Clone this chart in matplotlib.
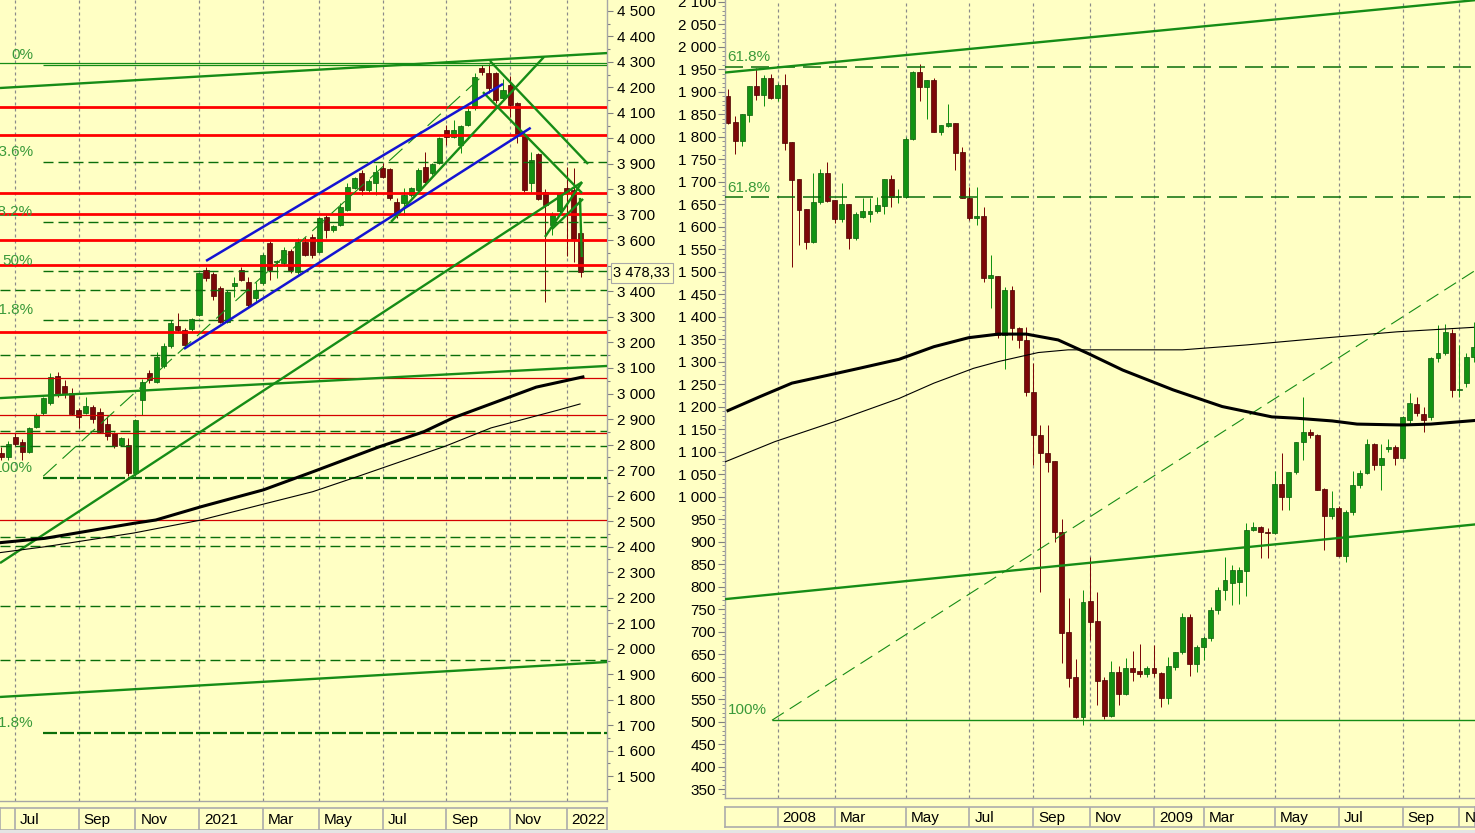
import numpy as np
import matplotlib
matplotlib.use('Agg')
import matplotlib.pyplot as plt
import matplotlib.transforms as mtransforms
from matplotlib.ticker import MultipleLocator, FuncFormatter
from matplotlib.patches import Rectangle

plt.rcParams['font.family'] = ['Liberation Sans', 'DejaVu Sans']

# ======================= DATA =======================
# ---- Left panel: weekly candles, late Jun 2020 .. Jan 2022 ----
left_open = [2765, 2750, 2831, 2811, 2772, 2870, 2922, 2962, 3069, 3030,
             3001, 2935, 2925, 2946, 2929, 2881, 2844, 2798, 2798, 2687,
             2975, 3079, 3047, 3106, 3186, 3265, 3249, 3252, 3308, 3484,
             3469, 3413, 3282, 3420, 3484, 3439, 3373, 3432, 3589, 3515,
             3511, 3560, 3478, 3596, 3615, 3556, 3694, 3641, 3661, 3720,
             3805, 3864, 3798, 3824, 3883, 3879, 3752, 3746, 3778, 3798,
             3890, 3863, 3903, 4033, 4007, 3975, 4053, 4118, 4278, 4256,
             4256, 4160, 4210, 4138, 4014, 3824, 3938, 3791, 3661, 3714,
             3805, 3798, 3628]
left_high = [2790, 2812, 2844, 2820, 2870, 2922, 2988, 3082, 3086, 3053,
             3020, 2942, 2988, 2955, 2942, 2910, 2850, 2830, 2824, 2899,
             3056, 3092, 3164, 3197, 3288, 3314, 3255, 3295, 3474, 3498,
             3475, 3420, 3406, 3458, 3498, 3456, 3439, 3550, 3599, 3525,
             3576, 3565, 3610, 3615, 3625, 3694, 3700, 3660, 3746, 3824,
             3850, 3877, 3841, 3896, 3903, 3885, 3765, 3805, 3810, 3883,
             3946, 3905, 4007, 4053, 4073, 4053, 4118, 4256, 4288, 4292,
             4262, 4232, 4245, 4145, 4020, 3948, 3942, 3800, 3710, 3790,
             3890, 3883, 3650]
left_low = [2740, 2740, 2795, 2739, 2765, 2865, 2915, 2955, 2988, 2981,
            2916, 2863, 2920, 2883, 2844, 2818, 2788, 2795, 2677, 2677,
            2916, 3040, 3040, 3100, 3180, 3242, 3177, 3245, 3304, 3440,
            3367, 3275, 3275, 3380, 3440, 3340, 3360, 3425, 3445, 3452,
            3500, 3472, 3470, 3540, 3530, 3550, 3608, 3635, 3655, 3715,
            3800, 3778, 3790, 3778, 3845, 3759, 3687, 3700, 3770, 3790,
            3825, 3855, 3900, 3975, 4000, 3942, 4048, 4110, 4250, 4180,
            4140, 4150, 4086, 3981, 3791, 3790, 3758, 3359, 3622, 3700,
            3540, 3517, 3458]
left_close = [2752, 2802, 2802, 2772, 2864, 2916, 2981, 3064, 2998, 2998,
              2920, 2909, 2951, 2899, 2850, 2835, 2794, 2824, 2687, 2896,
              3046, 3053, 3145, 3186, 3278, 3249, 3190, 3291, 3471, 3452,
              3382, 3282, 3399, 3432, 3445, 3347, 3406, 3543, 3484, 3521,
              3563, 3484, 3596, 3543, 3543, 3687, 3641, 3658, 3733, 3811,
              3844, 3798, 3833, 3870, 3850, 3765, 3700, 3778, 3805, 3876,
              3831, 3899, 4001, 4007, 4033, 4050, 4108, 4243, 4262, 4197,
              4151, 4190, 4131, 4014, 3798, 3916, 3763, 3739, 3700, 3785,
              3785, 3602, 3478.33]
left_month_ticks = [2, 11, 19, 28, 37, 45, 54, 63, 72, 80]
left_month_labels = ['Jul', 'Sep', 'Nov', '2021', 'Mar', 'May', 'Jul', 'Sep', 'Nov', '2022']

# moving averages (bar index, value)
left_ma_long_x = [-0.14, 6.2, 18.8, 21.9, 28.3, 37.1, 44.1, 53.5, 59.8, 63.9, 71.9, 75.7, 82.3]
left_ma_long_y = [2415, 2432, 2491, 2504, 2556, 2622, 2693, 2791, 2850, 2904, 2986, 3025, 3065]
left_ma_short_x = [-0.14, 6.2, 18.8, 28.3, 37.8, 44.1, 50.4, 62.9, 69.3, 78.8, 81.9]
left_ma_short_y = [2376, 2399, 2453, 2504, 2571, 2615, 2674, 2794, 2865, 2935, 2959]

# horizontal levels
left_red_thick = [4125, 4015, 3786, 3704, 3602, 3504, 3240]
left_red_thin = [3061, 2916, 2846, 2504]
left_fib_start = 5.94
left_fib_label_x = 4.53
left_fib_levels = [4290, 3909, 3672, 3481, 3290, 2670, 1668]
left_fib_labels = ['0%', '23.6%', '38.2%', '50%', '61.8%', '100%', '161.8%']
left_green_solid_full = [4297]
left_green_dashed_full = [3406, 3151, 2853, 2794, 2437, 2402, 2167, 1955]

# trend lines ((x0, y0), (x1, y1)) in (bar index, price)
left_green_trends = [((-0.14, 4198), (85.71, 4335)),
                     ((-0.14, 2982), (85.71, 3108)),
                     ((-0.14, 1810), (85.71, 1947)),
                     ((-0.14, 2335), (82.18, 3829)),
                     ((55.16, 3673), (76.80, 4320)),
                     ((69.16, 4304), (83.03, 3900)),
                     ((68.17, 4182), (82.18, 3786)),
                     ((76.94, 3614), (82.18, 3829)),
                     ((77.93, 3645), (82.32, 3763)),
                     ((81.89, 3767), (82.14, 3535))]
left_blue_trends = [((29.0, 3520), (71.0, 4214)),
                    ((25.88, 3175), (74.92, 4042))]
left_thin_diag = ((5.98, 2676), (67.75, 4237))

# ---- Right panel: weekly candles, Nov 2007 .. Nov 2009 ----
right_open = [1890, 1833, 1792, 1849, 1913, 1893, 1931, 1886, 1915, 1789,
              1706, 1639, 1567, 1655, 1721, 1660, 1618, 1651, 1576, 1623,
              1628, 1635, 1647, 1707, 1667, 1667, 1795, 1945, 1910, 1927,
              1812, 1825, 1830, 1767, 1665, 1621, 1624, 1487, 1492, 1361,
              1460, 1375, 1349, 1234, 1138, 1098, 1080, 922, 700, 600,
              511, 769, 724, 593, 513, 611, 562, 620, 613, 607,
              620, 609, 553, 622, 656, 733, 629, 667, 687, 749,
              793, 809, 811, 836, 927, 933, 922, 920, 1029, 1000,
              1056, 1122, 1144, 1138, 1018, 958, 976, 869, 967, 1027,
              1053, 1118, 1071, 1107, 1111, 1087, 1171, 1207, 1185, 1178,
              1309, 1320, 1364, 1238, 1253, 1311]
right_high = [1906, 1847, 1852, 1913, 1953, 1938, 1941, 1919, 1940, 1789,
              1706, 1639, 1719, 1728, 1744, 1660, 1697, 1651, 1634, 1665,
              1665, 1667, 1707, 1716, 1684, 1801, 1947, 1962, 1927, 1930,
              1827, 1873, 1830, 1778, 1688, 1688, 1645, 1538, 1492, 1467,
              1469, 1378, 1378, 1298, 1160, 1160, 1080, 950, 776, 640,
              793, 867, 789, 600, 636, 624, 642, 658, 673, 625,
              671, 611, 644, 656, 742, 740, 672, 690, 756, 800,
              867, 849, 845, 942, 944, 936, 930, 1058, 1098, 1056,
              1122, 1222, 1150, 1140, 1020, 1013, 980, 970, 1058, 1060,
              1129, 1120, 1118, 1129, 1115, 1180, 1231, 1222, 1200, 1312,
              1382, 1384, 1374, 1338, 1320, 1389]
right_low = [1829, 1762, 1781, 1833, 1882, 1869, 1884, 1880, 1771, 1512,
             1560, 1550, 1564, 1650, 1655, 1608, 1612, 1552, 1571, 1620,
             1610, 1630, 1628, 1645, 1653, 1665, 1793, 1879, 1841, 1812,
             1804, 1822, 1727, 1665, 1615, 1604, 1478, 1420, 1354, 1284,
             1349, 1330, 1225, 1071, 789, 1056, 900, 631, 578, 509,
             493, 682, 538, 507, 510, 538, 560, 591, 600, 600,
             600, 533, 540, 615, 650, 602, 611, 638, 680, 740,
             770, 760, 762, 779, 925, 864, 864, 918, 970, 970,
             1050, 1082, 1130, 1016, 882, 951, 869, 856, 960, 1020,
             1050, 1060, 1016, 1100, 1071, 1085, 1165, 1180, 1144, 1170,
             1300, 1315, 1222, 1222, 1245, 1300]
right_close = [1832, 1792, 1850, 1913, 1893, 1931, 1886, 1915, 1787, 1704,
               1638, 1567, 1655, 1721, 1658, 1618, 1651, 1576, 1628, 1636,
               1635, 1649, 1707, 1667, 1669, 1795, 1945, 1910, 1927, 1812,
               1827, 1830, 1765, 1665, 1621, 1624, 1487, 1493, 1361, 1461,
               1375, 1349, 1234, 1138, 1098, 1078, 922, 698, 598, 511,
               767, 722, 591, 513, 611, 562, 620, 611, 607, 620,
               609, 553, 624, 656, 733, 629, 667, 687, 749, 793,
               816, 838, 838, 927, 933, 922, 920, 1029, 1000, 1056,
               1122, 1144, 1138, 1016, 958, 976, 869, 967, 1027, 1053,
               1118, 1071, 1087, 1111, 1087, 1178, 1209, 1186, 1171, 1309,
               1320, 1367, 1238, 1241, 1311, 1333]
right_month_ticks = [7, 15, 25, 34, 43, 51, 60, 67, 77, 86, 95, 103]
right_month_labels = ['2008', 'Mar', 'May', 'Jul', 'Sep', 'Nov', '2009', 'Mar', 'May', 'Jul', 'Sep', 'Nov']

right_ma_long_x = [0, 4.5, 9.0, 14.2, 18.5, 24.1, 29.0, 33.9, 38.1, 42.0, 46.5, 50.7,
                   55.6, 62.7, 69.6, 76.6, 80.1, 85.1, 88.6, 94.9, 99.0, 105.2]
right_ma_long_y = [1192, 1223, 1253, 1271, 1286, 1306, 1334, 1354, 1362, 1362, 1349, 1319,
                   1282, 1238, 1201, 1178, 1175, 1169, 1162, 1160, 1162, 1170]
right_ma_short_x = [-0.42, 6.6, 14.9, 19.5, 24.1, 29.0, 34.6, 38.1, 43.7, 47.9, 55.6,
                    64.0, 73.1, 83.7, 94.2, 105.0]
right_ma_short_y = [1078, 1123, 1167, 1193, 1219, 1253, 1286, 1301, 1321, 1327, 1327,
                    1327, 1338, 1353, 1367, 1377]

right_fib_levels = [1955, 1666]
right_fib_labels = ['61.8%', '61.8%']
right_fib_label_x = -0.14
right_low_level = 504
right_low_label = '100%'
right_low_start = 6.2
right_low_label_x = 0.0
right_green_trends = [((-0.56, 1943), (105.2, 2104)),
                      ((-0.42, 773), (105.2, 939))]
right_thin_diag = ((6.2, 504), (105.2, 1503))

# ======================= STYLE / LAYOUT =======================
W, H = 1475, 833
BG = '#FFFFC4'
UP_FC, UP_EC = '#129212', '#0b5c0b'
DN_FC, DN_EC = '#7c0808', '#4a0000'
GREEN = '#168c16'
GREEN_D = '#0a6e0a'
FIBTXT = '#3a9a3a'
GRID = '#8a8a8a'
SPINE = '#a6a6a6'
PX = 0.72  # points per pixel


def dash(on_px, off_px, lw):
    return (0, (on_px * PX / lw, off_px * PX / lw))


fig = plt.figure(figsize=(W / 100, H / 100), dpi=100, facecolor=BG)


def fa(x0, y0, x1, y1):
    return [x0 / W, 1 - y1 / H, (x1 - x0) / W, (y1 - y0) / H]


def candles(ax, o, h, l, c, width):
    o, h, l, c = map(np.asarray, (o, h, l, c))
    x = np.arange(len(o))
    up = c >= o
    bot = np.minimum(o, c)
    ht = np.maximum(np.abs(c - o), 1e-9)
    for m, fc, ec in ((up, UP_FC, UP_EC), (~up, DN_FC, DN_EC)):
        ax.vlines(x[m], l[m], h[m], color=fc, lw=1.0 * PX, zorder=2)
        ax.bar(x[m], ht[m], width, bottom=bot[m], color=fc, edgecolor=ec,
               linewidth=0.7 * PX, zorder=2.2)


def fib_text(ax, x, y, s, ha):
    tr = ax.transData + mtransforms.ScaledTranslation(0, 2 / 72, fig.dpi_scale_trans)
    ax.text(x, y, s, transform=tr, ha=ha, va='bottom', color=FIBTXT, fontsize=11,
            clip_on=True, zorder=6)


last = left_close[-1]


def fmt_left(v, p):
    # the tick label hidden behind the last-price box is not drawn
    if abs(v - last) < 40:
        return ''
    return f'{int(round(v)):,}'.replace(',', ' ')


def fmt_thousands(v, p):
    return f'{int(round(v)):,}'.replace(',', ' ')


# ----------------------- LEFT PANEL -----------------------
ax1 = fig.add_axes(fa(0, 0, 607, 801))
ax1.set_facecolor(BG)
ax1.set_xlim(-0.141, 85.71)
ax1.set_ylim(1402, 4543.1)

for t in left_month_ticks:
    ax1.axvline(t, color=GRID, lw=0.86, ls=dash(3, 3, 0.86), zorder=0.5)

candles(ax1, left_open, left_high, left_low, left_close, 0.72)

for y in left_red_thick:
    ax1.axhline(y, color='#ff0000', lw=2.0, zorder=3)
for y in left_red_thin:
    ax1.axhline(y, color='#d40000', lw=0.9, zorder=3)
for y in left_green_solid_full:
    ax1.axhline(y, color=GREEN, lw=0.9, zorder=3)
for y in left_green_dashed_full:
    ax1.axhline(y, color=GREEN_D, lw=1.0, ls=dash(10, 5, 1.0), zorder=3)

x_end = ax1.get_xlim()[1]
for lev, lab in zip(left_fib_levels, left_fib_labels):
    if lab == '0%':
        ax1.hlines(lev, left_fib_start, x_end, color=GREEN, lw=0.9, zorder=3)
    elif lab in ('100%', '161.8%'):
        ax1.hlines(lev, left_fib_start, x_end, color=GREEN_D, lw=1.6, ls=dash(14, 3, 1.6), zorder=3)
    else:
        ax1.hlines(lev, left_fib_start, x_end, color=GREEN_D, lw=1.0, ls=dash(10, 5, 1.0), zorder=3)
    fib_text(ax1, left_fib_label_x, lev, lab, 'right')

(dx0, dy0), (dx1, dy1) = left_thin_diag
ax1.plot([dx0, dx1], [dy0, dy1], color=GREEN, lw=0.8, ls=dash(18, 8, 0.8), zorder=3)

for (x0, y0), (x1, y1) in left_green_trends:
    ax1.plot([x0, x1], [y0, y1], color=GREEN, lw=1.7, zorder=4, solid_capstyle='butt')
for (x0, y0), (x1, y1) in left_blue_trends:
    ax1.plot([x0, x1], [y0, y1], color='#1414d2', lw=1.8, zorder=4, solid_capstyle='butt')

ax1.plot(left_ma_long_x, left_ma_long_y, color='black', lw=2.2, zorder=4,
         solid_joinstyle='round')
ax1.plot(left_ma_short_x, left_ma_short_y, color='black', lw=0.8, zorder=4)

ax1.yaxis.tick_right()
ax1.set_yticks(np.arange(1500, 4501, 100))
ax1.yaxis.set_minor_locator(MultipleLocator(50))
ax1.yaxis.set_major_formatter(FuncFormatter(fmt_left))
ax1.tick_params(axis='y', which='major', length=4.5, width=0.8, color='#808080',
                pad=2.5, labelsize=11, direction='out')
ax1.tick_params(axis='y', which='minor', length=2.3, width=0.8, color='#808080', direction='out')
ax1.set_xticks([])
for s in ('top', 'left'):
    ax1.spines[s].set_visible(False)
for s in ('right', 'bottom'):
    ax1.spines[s].set_color(SPINE)
    ax1.spines[s].set_linewidth(1.0)

last_txt = f'{last:,.2f}'.replace(',', ' ').replace('.', ',')
ax1.text(1.0105, last, last_txt,
         transform=mtransforms.blended_transform_factory(ax1.transAxes, ax1.transData),
         ha='left', va='center_baseline', fontsize=10.5, color='black', clip_on=False, zorder=10,
         bbox=dict(boxstyle='square,pad=0.18', fc=BG, ec='#a8a8a8', lw=0.8))

# ----------------------- RIGHT PANEL -----------------------
ax2 = fig.add_axes(fa(725, 0, 1475, 798))
ax2.set_facecolor(BG)
ax2.set_xlim(-0.423, 105.21)
ax2.set_ylim(331.1, 2104.4)

for t in right_month_ticks:
    ax2.axvline(t, color=GRID, lw=0.86, ls=dash(3, 3, 0.86), zorder=0.5)

candles(ax2, right_open, right_high, right_low, right_close, 0.70)

for lev, lab in zip(right_fib_levels, right_fib_labels):
    ax2.axhline(lev, color=GREEN_D, lw=1.1, ls=dash(18, 8, 1.1), zorder=3)
    fib_text(ax2, right_fib_label_x, lev, lab, 'left')
ax2.hlines(right_low_level, right_low_start, ax2.get_xlim()[1], color=GREEN, lw=1.0, zorder=3)
fib_text(ax2, right_low_label_x, right_low_level, right_low_label, 'left')

(dx0, dy0), (dx1, dy1) = right_thin_diag
ax2.plot([dx0, dx1], [dy0, dy1], color=GREEN, lw=0.8, ls=dash(14, 7, 0.8), zorder=3)
for (x0, y0), (x1, y1) in right_green_trends:
    ax2.plot([x0, x1], [y0, y1], color=GREEN, lw=1.7, zorder=4)

ax2.plot(right_ma_long_x, right_ma_long_y, color='black', lw=2.2, zorder=4,
         solid_joinstyle='round')
ax2.plot(right_ma_short_x, right_ma_short_y, color='black', lw=0.8, zorder=4)

ax2.set_yticks(np.arange(350, 2101, 50))
ax2.yaxis.set_minor_locator(MultipleLocator(10))
ax2.yaxis.set_major_formatter(FuncFormatter(fmt_thousands))
ax2.tick_params(axis='y', which='major', length=5, width=0.8, color='#808080',
                pad=1.5, labelsize=11, direction='out')
ax2.tick_params(axis='y', which='minor', length=2.5, width=0.7, color='#909090', direction='out')
ax2.set_xticks([])
for s in ('top', 'right'):
    ax2.spines[s].set_visible(False)
for s in ('left', 'bottom'):
    ax2.spines[s].set_color(SPINE)
    ax2.spines[s].set_linewidth(1.0)


# ----------------------- DATE STRIPS -----------------------
def strip(rect, xlim, ticks, labels):
    s = fig.add_axes(rect)
    s.set_facecolor(BG)
    s.set_xlim(xlim)
    s.set_ylim(0, 1)
    s.set_xticks([])
    s.set_yticks([])
    for sp in s.spines.values():
        sp.set_color('#ababab')
        sp.set_linewidth(1.2)
    s.vlines(ticks, 0, 1, color='#ababab', lw=1.2)
    off = mtransforms.ScaledTranslation(5 / 100, 0, fig.dpi_scale_trans)
    for t, lab in zip(ticks, labels):
        s.text(t, 0.45, lab, transform=s.transData + off, ha='left', va='center',
               fontsize=11, color='black', clip_on=True)
    return s


strip(fa(0, 808, 607, 830), ax1.get_xlim(), left_month_ticks, left_month_labels)
strip(fa(725, 807, 1475, 827), ax2.get_xlim(), right_month_ticks, right_month_labels)

fig.add_artist(Rectangle((0, 0), 1, 3 / H, transform=fig.transFigure, fc='#e4e4e4', ec='none'))

fig.savefig('out.png', dpi=100, facecolor=BG)
